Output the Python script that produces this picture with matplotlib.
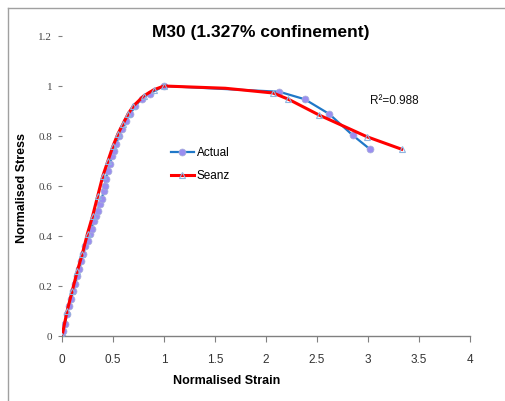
import matplotlib
matplotlib.use("Agg")
import matplotlib.pyplot as plt
from matplotlib.lines import Line2D

# Actual test data
actual_x = [0, 0.01, 0.03, 0.05, 0.07, 0.09, 0.11, 0.13, 0.15, 0.17, 0.19, 0.21, 0.23,
            0.25, 0.27, 0.29, 0.31, 0.33, 0.35, 0.37, 0.39, 0.41, 0.42, 0.43, 0.45, 0.47,
            0.49, 0.51, 0.53, 0.56, 0.59, 0.63, 0.67, 0.72, 0.78, 0.86, 1.0,
            2.13, 2.38, 2.62, 2.85, 3.02]
actual_y = [0, 0.02, 0.05, 0.09, 0.12, 0.15, 0.18, 0.21, 0.24, 0.27, 0.30, 0.33, 0.36,
            0.38, 0.41, 0.43, 0.46, 0.48, 0.50, 0.53, 0.55, 0.58, 0.60, 0.63, 0.66, 0.69,
            0.72, 0.74, 0.77, 0.80, 0.83, 0.86, 0.89, 0.92, 0.95, 0.97, 1.0,
            0.977, 0.947, 0.888, 0.803, 0.747]

# Seanz model
seanz_x = [0, 0.05, 0.1, 0.15, 0.2, 0.25, 0.3, 0.35, 0.4, 0.45, 0.5, 0.55, 0.6, 0.65,
           0.7, 0.8, 0.9, 1.0, 1.6, 2.07, 2.22, 2.52, 2.99, 3.33]
seanz_y = [0, 0.10, 0.18, 0.26, 0.33, 0.41, 0.48, 0.56, 0.64, 0.70, 0.76, 0.81, 0.85,
           0.89, 0.92, 0.96, 0.985, 1.0, 0.991, 0.972, 0.947, 0.884, 0.797, 0.747]

xticks = [0, 0.5, 1, 1.5, 2, 2.5, 3, 3.5, 4]
xticklabels = ["0", "0.5", "1", "1.5", "2", "2.5", "3", "3.5", "4"]
yticks = [0, 0.2, 0.4, 0.6, 0.8, 1.0, 1.2]
yticklabels = ["0", "0.2", "0.4", "0.6", "0.8", "1", "1.2"]

sans = ["Liberation Sans Narrow", "Liberation Sans", "DejaVu Sans"]
serif = ["Liberation Serif", "DejaVu Serif"]

fig = plt.figure(figsize=(5.05, 4.01), dpi=100)
ax = fig.add_axes([62/505, 1-336/401, 408/505, 300/401])

ax.plot(actual_x, actual_y, color="#1f78c8", lw=1.6, marker="o", ms=5,
        mfc="#9a8ef0", mec="#a8b0d8", mew=0.5, label="Actual", zorder=2)
seanz_marks = [i for i, xv in enumerate(seanz_x) if xv != 1.6]
ax.plot(seanz_x, seanz_y, color="#ff0000", lw=2.2, marker="^", ms=4,
        markevery=seanz_marks, mfc="none", mec="#8fb4e0", mew=0.8,
        label="Seanz", zorder=3)

ax.set_xlim(0, 4)
ax.set_ylim(0, 1.2)
ax.set_xticks(xticks)
ax.set_xticklabels(xticklabels, fontfamily=sans, fontsize=8.5, color="#333333")
ax.set_yticks(yticks)
ax.set_yticklabels(yticklabels, fontfamily=serif, fontsize=8, color="#444444")

for s in ["top", "right", "left"]:
    ax.spines[s].set_visible(False)
ax.spines["bottom"].set_color("#808080")
ax.spines["bottom"].set_linewidth(1.0)
ax.tick_params(axis="x", length=4, color="#808080", pad=9)
ax.tick_params(axis="y", length=3, color="#808080", pad=4)

leg = ax.legend(loc="upper left", bbox_to_anchor=(0.24, 0.665), frameon=False,
                prop={"family": sans, "size": 8.5}, handlelength=2.0,
                handletextpad=0.2, labelspacing=0.9)

ax.text(3.02, 0.93, "R²=0.988", fontfamily=sans, fontsize=8.5, color="#111111")

fig.text(261/505, 1-33/401, "M30 (1.327% confinement)", ha="center", va="center",
         fontfamily=sans, fontsize=12.5, fontweight="bold")
fig.text(227/505, 1-381/401, "Normalised Strain", ha="center", va="center",
         fontfamily=sans, fontsize=9, fontweight="bold")
fig.text(22/505, 1-188/401, "Normalised Stress", ha="center", va="center",
         rotation=90, fontfamily=sans, fontsize=9, fontweight="bold")

# outer frame (left and top edges visible)
fig.add_artist(Line2D([8/505, 8/505], [0, 1-8/401], transform=fig.transFigure,
                      color="#a0a0a0", lw=1))
fig.add_artist(Line2D([8/505, 1], [1-8/401, 1-8/401], transform=fig.transFigure,
                      color="#a0a0a0", lw=1))

fig.savefig("out.png", dpi=100)
